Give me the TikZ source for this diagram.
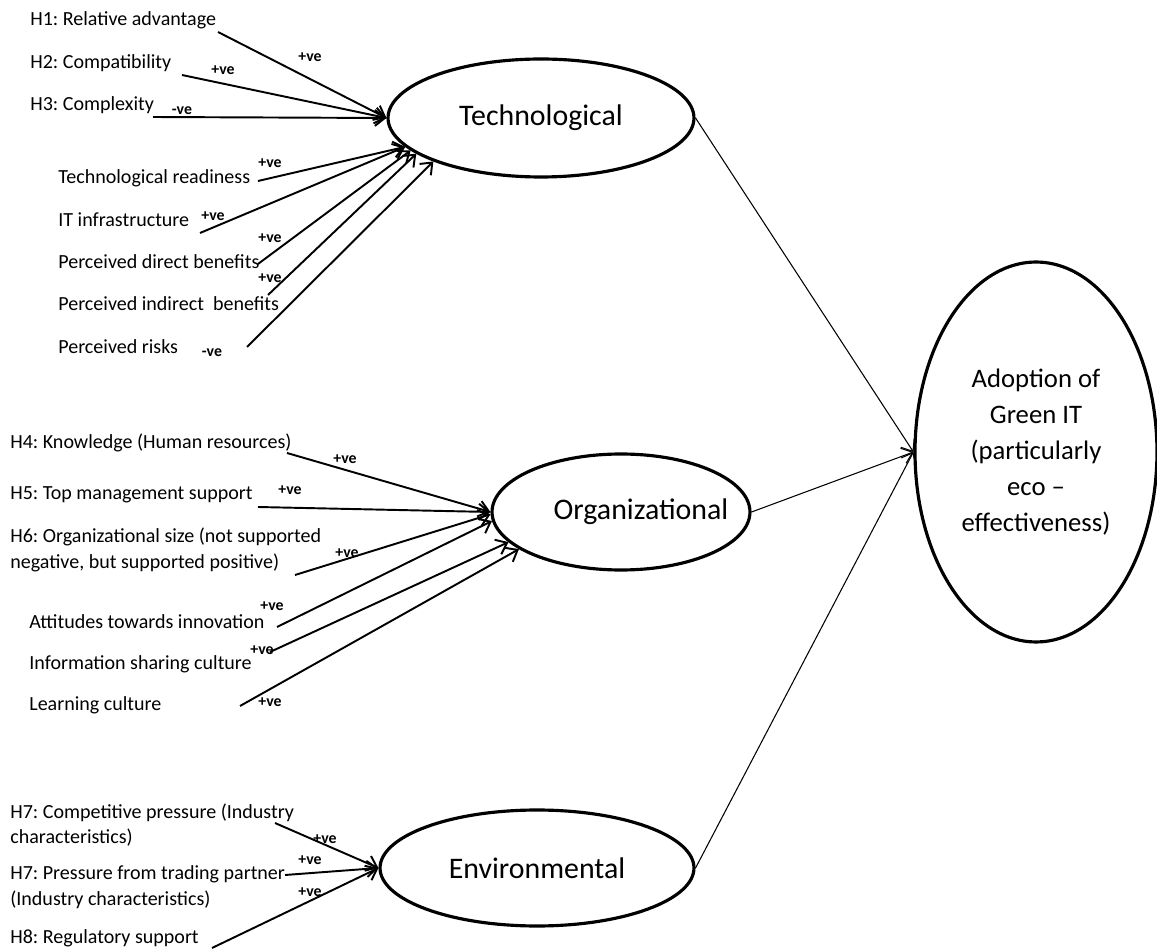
\documentclass[tikz,border=0pt]{standalone}
\usepackage{fontspec}
\setmainfont{Carlito}
\usetikzlibrary{arrows.meta,shapes.geometric}
\frenchspacing

\begin{document}
\begin{tikzpicture}[x=0.02cm,y=-0.02cm,>={Straight Barb[length=2mm,width=3.2mm]},
  factor/.style={draw,ellipse,line width=1.8pt,inner sep=0pt,font=\fontsize{17}{20}\selectfont},
  hyp/.style={anchor=west,inner sep=0pt,align=left,font=\fontsize{11.4}{14.6}\selectfont},
  sgn/.style={inner sep=0pt,font=\fontsize{9}{10}\selectfont\bfseries},
  link/.style={->,line width=1.1pt},
  mainlink/.style={->,line width=0.6pt}]
\useasboundingbox (0,0) rectangle (1157,949);
\node[factor,minimum width=6.12cm,minimum height=2.36cm] (tech) at (541,118) {Technological};
\node[factor,minimum width=5.16cm,minimum height=2.32cm] (org) at (621,512) {};
\node[inner sep=0pt,font=\fontsize{17}{20}\selectfont] (orglbl) at (641,512) {Organizational};
\node[factor,minimum width=6.28cm,minimum height=2.32cm] (env) at (537,868) {Environmental};
\node[factor,minimum width=4.84cm,minimum height=7.6cm,align=center,font=\fontsize{15.2}{20.6}\selectfont] (adopt) at (1036,452)
  {Adoption of\\Green IT\\(particularly\\eco --\\effectiveness)};
\draw[mainlink] (tech.east) -- (adopt.west);
\draw[mainlink] (org.east) -- (adopt.west);
\draw[mainlink] (env.east) -- (adopt.west);

\node[hyp] (h1) at (30,20) {H1: Relative advantage};
\node[hyp] (h2) at (30,63) {H2: Compatibility};
\node[hyp] (h3) at (30,105) {H3: Complexity};
\node[hyp] (trd) at (58,178) {Technological readiness};
\node[hyp] (itf) at (58,220) {IT infrastructure};
\node[hyp] (pdb) at (58,262) {Perceived direct benefits};
\node[hyp] (pib) at (58,304) {Perceived indirect~ benefits};
\node[hyp] (prk) at (58,347) {Perceived risks};
\coordinate (h1s) at (218,32); \coordinate (h2s) at (182,75); \coordinate (h3s) at (153,117);
\coordinate (trds) at (258,181); \coordinate (itfs) at (200,233); \coordinate (pdbs) at (258,264);
\coordinate (pibs) at (268,295); \coordinate (prks) at (247,347);
\draw[link] (h1s) -- (tech.west); \draw[link] (h2s) -- (tech.west); \draw[link] (h3s) -- (tech.west);
\draw[link] (trds) -- (tech.192); \draw[link] (itfs) -- (tech.192); \draw[link] (pdbs) -- (tech.194);
\draw[link] (pibs) -- (tech.196); \draw[link] (prks) -- (tech.202);
\node[sgn] (s1) at (310,57) {+ve}; \node[sgn] (s2) at (223,70) {+ve}; \node[sgn] (s3) at (182,111) {-ve};
\node[sgn] (strd) at (270,163) {+ve}; \node[sgn] (sitf) at (213,216) {+ve}; \node[sgn] (spdb) at (270,238) {+ve};
\node[sgn] (spib) at (270,278) {+ve}; \node[sgn] (sprk) at (212,353) {-ve};

\node[hyp] (h4) at (10,443) {H4: Knowledge (Human resources)};
\node[hyp] (h5) at (10,495) {H5: Top management support};
\node[hyp] (h6) at (10,550) {H6: Organizational size (not supported\\negative, but supported positive)};
\node[hyp] (att) at (29,622) {Attitudes towards innovation};
\node[hyp] (isc) at (29,664) {Information sharing culture};
\node[hyp] (lrn) at (29,705) {Learning culture};
\coordinate (h4s) at (287,453); \coordinate (h5s) at (258,507); \coordinate (h6s) at (295,575);
\coordinate (atts) at (277,627); \coordinate (iscs) at (270,652); \coordinate (lrns) at (240,706);
\draw[link] (h4s) -- (org.west); \draw[link] (h5s) -- (org.west); \draw[link] (h6s) -- (org.181);
\draw[link] (atts) -- (org.184); \draw[link] (iscs) -- (org.195); \draw[link] (lrns) -- (org.200);
\node[sgn] (s4) at (345,459) {+ve}; \node[sgn] (s5) at (290,490) {+ve}; \node[sgn] (s6) at (347,553) {+ve};
\node[sgn] (satt) at (272,606) {+ve}; \node[sgn] (sisc) at (262,650) {+ve}; \node[sgn] (slrn) at (270,702) {+ve};

\node[hyp] (h7a) at (10,825) {H7: Competitive pressure (Industry\\characteristics)};
\node[hyp] (h7b) at (10,887) {H7: Pressure from trading partner\\(Industry characteristics)};
\node[hyp] (h8) at (10,938) {H8: Regulatory support};
\coordinate (h7as) at (275,823); \coordinate (h7bs) at (285,875); \coordinate (h8s) at (212,948);
\draw[link] (h7as) -- (env.west); \draw[link] (h7bs) -- (env.west); \draw[link] (h8s) -- (env.west);
\node[sgn] (s7a) at (325,839) {+ve}; \node[sgn] (s7b) at (310,860) {+ve}; \node[sgn] (s8) at (310,892) {+ve};
\end{tikzpicture}
\end{document}
